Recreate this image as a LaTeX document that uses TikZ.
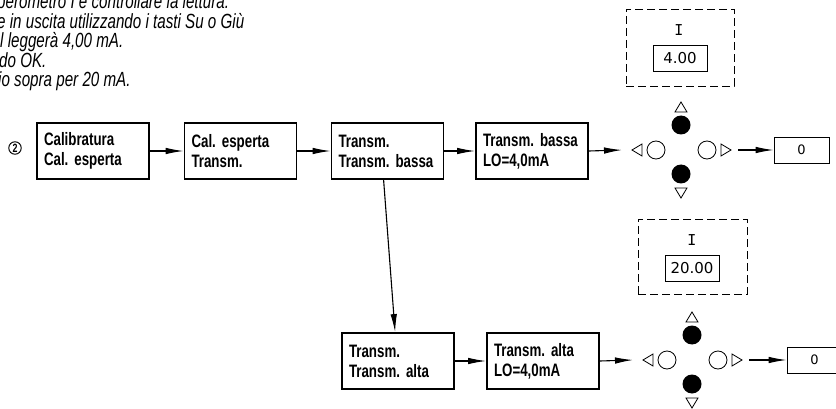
\documentclass[tikz,border=0pt]{standalone}
\usepackage{fontspec}
\setmainfont{Liberation Sans}
\newfontfamily\noteFont{Liberation Sans}[FakeStretch=0.74]
\newfontfamily\boxFont{Liberation Sans}[FakeStretch=0.74]
\newfontfamily\lcdFont{DejaVu Sans}
\newfontfamily\lcdMono{DejaVu Sans Mono}
\usetikzlibrary{arrows.meta,calc}

\tikzset{
  stepbox/.style={draw, line width=1.8pt, minimum height=56pt, text width=98pt,
    inner xsep=7pt, align=left, font=\boxFont\bfseries\fontsize{18}{20}\selectfont},
  flow/.style={line width=1.1pt, -{Latex[length=18pt,width=6.5pt]}},
  note/.style={anchor=base west, inner sep=0pt, font=\noteFont\itshape\fontsize{20.5}{19}\selectfont},
  lcdbox/.style={draw, line width=0.8pt, minimum width=54pt, minimum height=26pt, inner sep=0pt,
    font=\lcdFont\fontsize{15}{15}\selectfont},
  outbox/.style={draw, line width=0.8pt, minimum width=55pt, minimum height=26pt, inner sep=0pt,
    font=\lcdFont\fontsize{13}{13}\selectfont},
  meterframe/.style={draw, line width=0.8pt, dash pattern=on 8pt off 4pt},
  keypad/.pic={
    % filled keys above and below
    \fill (0,-25) circle (9.5);
    \fill (0,24) circle (9.5);
    % open keys left and right
    \draw[line width=0.8pt] (-25,0) circle (9);
    \draw[line width=0.8pt] (26,0) circle (9);
    % direction marks
    \draw[line width=0.8pt, line join=miter] (-6,-38) -- (6,-38) -- (0,-48) -- cycle;
    \draw[line width=0.8pt, line join=miter] (-6,38) -- (6,38) -- (0,48) -- cycle;
    \draw[line width=0.8pt, line join=miter] (-39,-6) -- (-39,6) -- (-49,0) -- cycle;
    \draw[line width=0.8pt, line join=miter] (40,-6) -- (40,6) -- (50,0) -- cycle;
    \coordinate (-in) at (-59,0);
    \coordinate (-out) at (57,0);
  }
}

\begin{document}
\frenchspacing
\begin{tikzpicture}[x=1pt, y=-1pt]
  \useasboundingbox (0,0) rectangle (836,409);

  % instruction text
  \node[note] (n1) at (-3,9) {perometro I e controllare la lettura.};
  \node[note] (n2) at (-3,28.5) {e in uscita utilizzando i tasti Su o Giù};
  \node[note] (n3) at (0,48) {l leggerà 4,00 mA.};
  \node[note] (n4) at (-1,67.5) {do OK.};
  \node[note] (n5) at (-2,87) {io sopra per 20 mA.};

  % step marker
  \node[draw, circle, line width=1pt, inner sep=1pt, font=\boxFont\bfseries\fontsize{12}{12}\selectfont] (mark) at (15,148) {2};

  % menu steps, first row
  \node[stepbox] (b1) at (93,151) {Calibratura\\Cal. esperta};
  \node[stepbox] (b2) at (240.5,151) {Cal. esperta\\Transm.};
  \node[stepbox] (b3) at (387.5,151) {Transm.\\Transm. bassa};
  \node[stepbox] (b4) at (532,151) {Transm. bassa\\LO=4,0mA};

  % menu steps, second row
  \node[stepbox] (b5) at (398,361) {Transm.\\Transm. alta};
  \node[stepbox] (b6) at (543,361) {Transm. alta\\LO=4,0mA};

  % meter readings
  \node[meterframe, minimum width=108pt, minimum height=77pt] (m1) at (680,47.5) {};
  \node[font=\lcdMono\fontsize{15}{15}\selectfont, inner sep=0pt] (i1) at (679,30) {I};
  \node[lcdbox] (d1) at (680,58) {4.00};

  \node[meterframe, minimum width=109pt, minimum height=75pt] (m2) at (692.5,256.5) {};
  \node[font=\lcdMono\fontsize{15}{15}\selectfont, inner sep=0pt] (i2) at (692,240) {I};
  \node[lcdbox] (d2) at (692,268) {20.00};

  % keypads
  \pic (k1) at (681,150) {keypad};
  \pic (k2) at (692,360) {keypad};

  % output displays
  \node[outbox] (o1) at (801.5,150) {0};
  \node[outbox] (o2) at (814.5,360) {0};

  % connectors
  \draw[flow] (b1) -- (b2);
  \draw[flow] (b2) -- (b3);
  \draw[flow] (b3) -- (b4);
  \draw[flow] (b4.east) -- (k1-in);
  \draw[flow] (k1-out) -- (o1.west);
  \draw[flow] ($(b3.south west)+(53,0)$) -- ($(b5.north west)+(54,0)$);
  \draw[flow] (b5) -- (b6);
  \draw[flow] (b6.east) -- (k2-in);
  \draw[flow] (k2-out) -- (o2.west);
\end{tikzpicture}
\end{document}
